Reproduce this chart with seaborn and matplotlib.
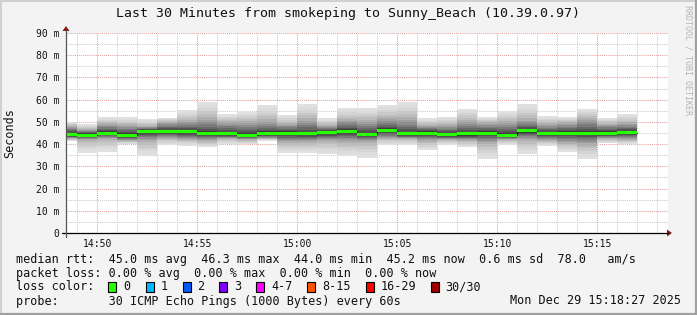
import matplotlib
matplotlib.use("Agg")
import matplotlib.pyplot as plt
import matplotlib.transforms as mtransforms
from matplotlib.patches import Rectangle, Polygon
from matplotlib.lines import Line2D
from matplotlib.ticker import MultipleLocator
import numpy as np
import pandas as pd
import seaborn as sns

# ---------------- data ----------------
# start of each 60 s step, minutes past 14:00 (14:48 ... 15:16)
step_minute = list(range(48, 77))
median_ms = [44.4, 44.0, 45.0, 44.0, 45.6, 45.6, 45.6, 44.9, 44.7, 44.1,
             44.9, 44.9, 44.7, 45.2, 45.8, 44.4, 46.3, 44.7, 45.0, 44.3,
             44.6, 45.0, 44.0, 46.0, 44.7, 44.9, 44.9, 44.9, 45.2]
smoke_max = [50.1, 48.9, 52.1, 52.1, 51.3, 51.9, 55.3, 59.1, 53.5, 54.6,
             57.6, 53.1, 58.0, 51.6, 56.1, 56.1, 57.6, 59.1, 51.6, 52.2,
             55.8, 52.0, 55.1, 58.0, 52.6, 52.2, 55.8, 51.9, 53.5]
smoke_q3 = [48.0, 46.5, 49.0, 48.5, 48.0, 50.0, 50.5, 51.5, 50.0, 50.0,
            50.5, 49.0, 51.0, 48.5, 51.0, 50.5, 51.5, 51.5, 48.5, 48.5,
            50.5, 49.5, 50.0, 51.0, 49.0, 49.5, 51.5, 49.0, 49.5]
smoke_q1 = [42.5, 42.0, 42.5, 41.5, 41.5, 42.5, 42.0, 41.5, 42.5, 42.0,
            42.5, 41.0, 41.0, 41.5, 41.0, 41.0, 42.5, 42.5, 41.5, 42.0,
            41.5, 40.5, 42.0, 42.0, 41.5, 40.5, 40.0, 42.5, 42.0]
smoke_min = [41.4, 36.1, 36.6, 39.9, 34.8, 39.6, 39.3, 38.6, 39.9, 39.9,
             41.6, 36.1, 36.1, 35.5, 34.6, 33.9, 39.6, 39.6, 37.3, 39.6,
             38.8, 33.1, 39.6, 35.5, 39.3, 36.6, 33.1, 40.3, 40.0]

y_ticks = [0, 10, 20, 30, 40, 50, 60, 70, 80, 90]
y_tick_labels = ["0", "10 m", "20 m", "30 m", "40 m", "50 m", "60 m", "70 m", "80 m", "90 m"]
x_ticks = [50, 55, 60, 65, 70, 75]
x_tick_labels = ["14:50", "14:55", "15:00", "15:05", "15:10", "15:15"]

loss_labels = ["0", "1", "2", "3", "4-7", "8-15", "16-29", "30/30"]
loss_colors = ["#26ff00", "#00b8ff", "#0059ff", "#7e00ff", "#ff00ff", "#ff5500", "#ff0000", "#a00000"]

title = "Last 30 Minutes from smokeping to Sunny_Beach (10.39.0.97)"
line_median = "median rtt:  45.0 ms avg  46.3 ms max  44.0 ms min  45.2 ms now  0.6 ms sd  78.0   am/s"
line_loss = "packet loss: 0.00 % avg  0.00 % max  0.00 % min  0.00 % now"
line_probe = "probe:       30 ICMP Echo Pings (1000 Bytes) every 60s"
stamp = "Mon Dec 29 15:18:27 2025"

# ---------------- style ----------------
sns.set_style("white")
plt.rcParams['font.family'] = ['DejaVu Sans Mono', 'DejaVu Sans']

W, H = 697, 315
BG = "#f3f3f3"
fig = plt.figure(figsize=(W / 100, H / 100), dpi=100, facecolor=BG)
PX = mtransforms.Affine2D().scale(1 / W, -1 / H).translate(0, 1) + fig.transFigure

ax_l, ax_r, ax_t, ax_b = 66, 668, 33, 233
ax = fig.add_axes([ax_l / W, 1 - ax_b / H, (ax_r - ax_l) / W, (ax_b - ax_t) / H])
ax.set_facecolor("white")
x0 = 48 + 26 / 60
ax.set_xlim(x0, x0 + (ax_r - ax_l) / 20)
ax.set_ylim(0, 90)

df = pd.DataFrame({"start": step_minute, "median": median_ms, "mn": smoke_min,
                   "q1": smoke_q1, "q3": smoke_q3, "mx": smoke_max})

# smoke: nested bands from outer (light) to inner (dark)
K = 12
for k in range(K):
    t = k / (K - 1)
    if t <= 0.5:
        s = 2 * t
        lo = df.mn + (df.q1 - df.mn) * s
        hi = df.mx + (df.q3 - df.mx) * s
    else:
        s = 2 * t - 1
        lo = df.q1 + (df["median"] - 0.8 - df.q1) * s
        hi = df.q3 + (df["median"] + 0.8 - df.q3) * s
    g = 0.88 - 0.64 * t ** 1.5
    ax.bar(df.start, hi - lo, bottom=lo, width=1.0, align="edge",
           color=(g, g, g), linewidth=0, zorder=1)

# median: thin dark step line + green band (loss colour 0)
step_df = pd.DataFrame({"t": step_minute + [step_minute[-1] + 1],
                        "v": median_ms + [median_ms[-1]]})
sns.lineplot(data=step_df, x="t", y="v", drawstyle="steps-post", color="#202020",
             linewidth=0.8, ax=ax, zorder=3)
ax.bar(df.start, 1.35, bottom=df["median"] - 0.675, width=1.0, align="edge",
       color=loss_colors[0], linewidth=0, zorder=4)

# grid
ax.set_xticks(x_ticks)
ax.set_xticklabels(x_tick_labels)
ax.xaxis.set_minor_locator(MultipleLocator(1))
ax.set_yticks(y_ticks)
ax.set_yticklabels(y_tick_labels)
ax.yaxis.set_minor_locator(MultipleLocator(5))
ax.set_axisbelow(True)
ax.grid(which="major", color="#e4a0a0", linestyle=(0, (1, 1)), linewidth=0.75)
ax.grid(which="minor", color="#cccccc", linestyle=(0, (1, 1)), linewidth=0.75)
ax.tick_params(axis="both", which="major", length=0, labelsize=7, colors="#111111")
ax.tick_params(axis="x", which="major", pad=4)
ax.tick_params(axis="y", which="major", pad=5)
ax.tick_params(which="minor", length=0)
ax.set_xlabel("")
ax.set_ylabel("")
for s in ax.spines.values():
    s.set_visible(False)

# axes lines with arrows
fig.add_artist(Line2D([62, 668], [233, 233], transform=PX, color="black", linewidth=0.9))
fig.add_artist(Line2D([66, 66], [237, 30], transform=PX, color="#555555", linewidth=0.9))
fig.add_artist(Polygon([[667, 229.5], [667, 236.5], [672, 233]], closed=True, transform=PX,
                       color="#8b1a1a", linewidth=0))
fig.add_artist(Polygon([[62.5, 31], [69.5, 31], [66, 26]], closed=True, transform=PX,
                       color="#8b1a1a", linewidth=0))

# texts
fig.text(347.5 / W, 1 - 14 / H, title, ha="center", va="center", fontsize=9.5, color="#111111")
fig.text(10 / W, 1 - 133 / H, "Seconds", rotation=90, ha="center", va="center",
         fontsize=8.5, color="#111111")
fig.text(688 / W, 1 - 5 / H, "RRDTOOL / TOBI OETIKER", rotation=-90, ha="center", va="top",
         fontsize=6, color="#b4b4b4")

fs = 8.5
fig.text(16 / W, 1 - 259 / H, line_median, ha="left", va="center", fontsize=fs, color="#111111")
fig.text(16 / W, 1 - 273 / H, line_loss, ha="left", va="center", fontsize=fs, color="#111111")
fig.text(16 / W, 1 - 287 / H, "loss color:", ha="left", va="center", fontsize=fs, color="#111111")
fig.text(16 / W, 1 - 301 / H, line_probe, ha="left", va="center", fontsize=fs, color="#111111")
fig.text(681 / W, 1 - 301 / H, stamp, ha="right", va="center", fontsize=fs, color="#111111")

sq_x = [108, 145.5, 182.5, 219, 256, 307, 365.5, 430.5]
for xs, lab, col in zip(sq_x, loss_labels, loss_colors):
    fig.add_artist(Rectangle((xs, 282), 8, 9.5, transform=PX, facecolor=col,
                             edgecolor="black", linewidth=0.8))
    fig.text((xs + 15) / W, 1 - 287 / H, lab, ha="left", va="center", fontsize=fs, color="#111111")

# frame
fig.add_artist(Line2D([0, W], [0.5, 0.5], transform=PX, color="#d0d0d0", linewidth=1.4))
fig.add_artist(Line2D([0.5, 0.5], [0, H], transform=PX, color="#d0d0d0", linewidth=1.4))
fig.add_artist(Line2D([0, W], [H - 1, H - 1], transform=PX, color="#a0a0a0", linewidth=1.6))
fig.add_artist(Line2D([W - 1, W - 1], [0, H], transform=PX, color="#a0a0a0", linewidth=1.6))

fig.savefig("out.png", dpi=100, facecolor=BG)
